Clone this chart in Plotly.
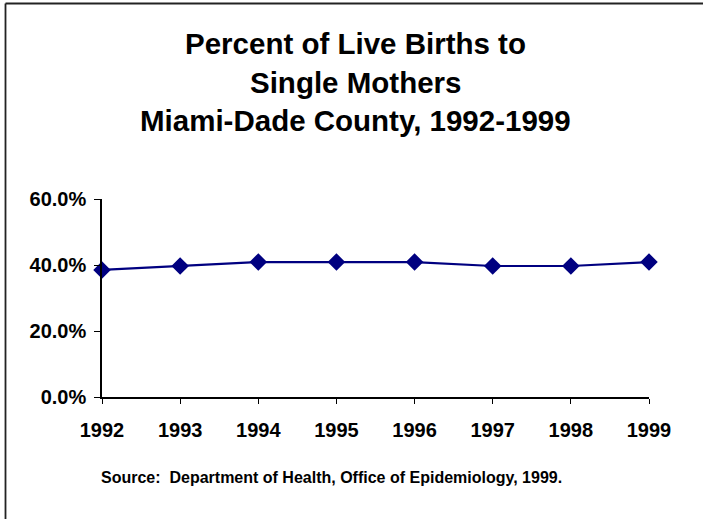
import plotly.graph_objects as go

years = [1992, 1993, 1994, 1995, 1996, 1997, 1998, 1999]
percent_single = [38.5, 39.7, 40.9, 40.9, 40.9, 39.7, 39.7, 40.9]
y_ticks = [0, 20, 40, 60]
y_tick_labels = ["0.0%", "20.0%", "40.0%", "60.0%"]
title_lines = ["Percent of Live Births to", "Single Mothers", "Miami-Dade County, 1992-1999"]
source_text = "Source:  Department of Health, Office of Epidemiology, 1999."

W, H = 703, 519
ML, MR, MT, MB = 102, 54, 199, 122
NAVY = "#000080"
FONT = "Liberation Sans, Arial, sans-serif"

fig = go.Figure()
fig.add_trace(go.Scatter(
    x=years, y=percent_single, mode="lines+markers",
    line=dict(color=NAVY, width=2.2),
    marker=dict(symbol="diamond", size=13.5, color=NAVY),
    cliponaxis=False, showlegend=False,
))

pw = W - ML - MR
ph = H - MT - MB

def px_x(x):
    return (x - ML) / pw

def px_y(y):
    return (H - MB - y) / ph

fig.update_layout(
    width=W, height=H,
    margin=dict(l=ML, r=MR, t=MT, b=MB, pad=0),
    paper_bgcolor="white", plot_bgcolor="white",
    font=dict(family=FONT, color="black"),
    xaxis=dict(
        range=[years[0], years[-1]], tickvals=years, ticktext=[str(y) for y in years],
        showgrid=False, zeroline=False, showline=True, linecolor="black", linewidth=1.5,
        ticks="outside", ticklen=5, tickcolor="black", tickwidth=1,
        ticklabelstandoff=9,
        tickfont=dict(size=20, family=FONT, weight="bold"),
    ),
    yaxis=dict(
        range=[0, 60], tickvals=y_ticks, ticktext=y_tick_labels,
        showgrid=False, zeroline=False, showline=True, linecolor="black", linewidth=1.5,
        ticks="outside", ticklen=6, tickcolor="black", tickwidth=1,
        ticklabelstandoff=4,
        tickfont=dict(size=20, family=FONT, weight="bold"),
    ),
)

title_y = [43, 82, 120]
for t, yy in zip(title_lines, title_y):
    fig.add_annotation(text="<b>" + t + "</b>", xref="paper", yref="paper",
                       x=px_x(355), y=px_y(yy), xanchor="center", yanchor="middle",
                       showarrow=False, font=dict(size=29.5, family=FONT, color="black"))

fig.add_annotation(text="<b>" + source_text + "</b>", xref="paper", yref="paper",
                   x=px_x(331), y=px_y(477), xanchor="center", yanchor="middle",
                   showarrow=False, font=dict(size=16, family=FONT, color="black"))

# outer frame (left and top edges visible in the reference)
fig.add_shape(type="line", xref="paper", yref="paper",
              x0=px_x(5.5), x1=px_x(5.5), y0=px_y(3.5), y1=px_y(519),
              line=dict(color="#222222", width=1.8))
fig.add_shape(type="line", xref="paper", yref="paper",
              x0=px_x(5.5), x1=px_x(703), y0=px_y(3.5), y1=px_y(3.5),
              line=dict(color="#222222", width=1.8))

fig.write_html("out.html", config={"displayModeBar": False},
               post_script="document.body.style.margin='0';document.body.style.overflow='hidden';")
